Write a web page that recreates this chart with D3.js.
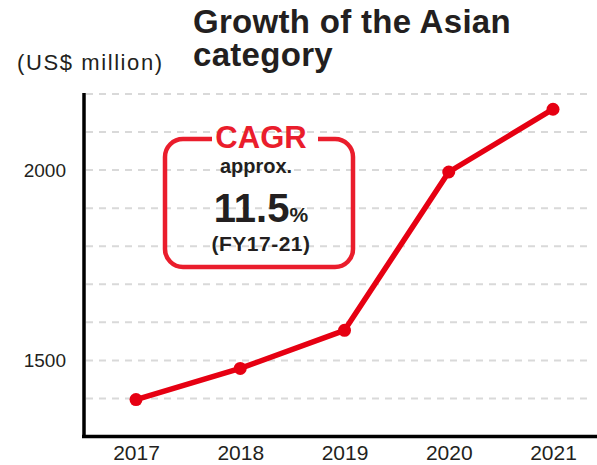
<!DOCTYPE html>
<html>
<head>
<meta charset="utf-8">
<script src="https://cdn.jsdelivr.net/npm/d3@7"></script>
<style>
  body { margin: 0; background: #fff; }
  svg { display: block; font-family: "Liberation Sans", Arial, sans-serif; }
</style>
</head>
<body>
<svg id="chart" width="597" height="465"></svg>
<script>
// Chart data
var years = ['2017', '2018', '2019', '2020', '2021'];
var sales = [1397, 1479, 1579, 1995, 2160];
var yLabelTicks = [1500, 2000];
var gridTicks = [1400, 1500, 1600, 1700, 1800, 1900, 2000, 2100, 2200];
var titleLines = ['Growth of the Asian', 'category'];

var red = '#e60012';
var boxRed = '#ea1d2c';
var ink = '#231f20';

var svg = d3.select('#chart');

// Scales
var x = d3.scalePoint()
  .domain(years)
  .range([136, 553]);

var y = d3.scaleLinear()
  .domain([1300, 2200])
  .range([436.5, 94]);

// Dashed gridlines
svg.append('g')
  .selectAll('line')
  .data(gridTicks)
  .enter().append('line')
  .attr('x1', 86)
  .attr('x2', 593)
  .attr('y1', function(d) { return y(d); })
  .attr('y2', function(d) { return y(d); })
  .style('stroke', '#d9d9d9')
  .style('stroke-width', 2)
  .style('stroke-dasharray', '7,6');

// Y axis (labels only for a couple of ticks)
var yAxis = svg.append('g')
  .attr('transform', 'translate(84,0)')
  .call(d3.axisLeft(y).tickValues(yLabelTicks).tickFormat(d3.format('d')).tickSize(0).tickPadding(18));
yAxis.select('.domain').remove();
yAxis.selectAll('text')
  .style('font-size', '19px')
  .style('fill', ink);

svg.append('line')
  .attr('x1', 84).attr('x2', 84)
  .attr('y1', y(2200) - 1).attr('y2', y(1300) + 1.5)
  .style('stroke', '#000')
  .style('stroke-width', 3.5);

// X axis
var xAxis = svg.append('g')
  .attr('transform', 'translate(0,' + y(1300) + ')')
  .call(d3.axisBottom(x).tickSize(0).tickPadding(9));
xAxis.select('.domain').remove();
xAxis.selectAll('text')
  .style('font-size', '21px')
  .style('fill', ink);

svg.append('line')
  .attr('x1', 82).attr('x2', 597)
  .attr('y1', y(1300)).attr('y2', y(1300))
  .style('stroke', '#000')
  .style('stroke-width', 3.5);

// Sales line
var line = d3.line()
  .x(function(d, i) { return x(years[i]); })
  .y(function(d) { return y(d); });

svg.append('path')
  .datum(sales)
  .attr('d', line)
  .style('fill', 'none')
  .style('stroke', red)
  .style('stroke-width', 5.5)
  .style('stroke-linejoin', 'round');

svg.selectAll('.dot')
  .data(sales)
  .enter().append('circle')
  .attr('class', 'dot')
  .attr('cx', function(d, i) { return x(years[i]); })
  .attr('cy', function(d) { return y(d); })
  .attr('r', 6.5)
  .style('fill', red);

// Title and unit
svg.selectAll('.title')
  .data(titleLines)
  .enter().append('text')
  .attr('class', 'title')
  .attr('x', 193)
  .attr('y', function(d, i) { return 33 + i * 33; })
  .style('font-size', '33px')
  .style('font-weight', 'bold')
  .style('letter-spacing', '0.3px')
  .style('fill', ink)
  .text(function(d) { return d; });

svg.append('text')
  .attr('x', 17)
  .attr('y', 70)
  .style('font-size', '22px')
  .style('letter-spacing', '1.6px')
  .style('fill', ink)
  .text('(US$ million)');

// CAGR box
var box = {left: 165, right: 353, top: 139, bottom: 267, r: 18, gapL: 212, gapR: 318};
var b = d3.path();
b.moveTo(box.gapL, box.top);
b.lineTo(box.left + box.r, box.top);
b.arcTo(box.left, box.top, box.left, box.top + box.r, box.r);
b.lineTo(box.left, box.bottom - box.r);
b.arcTo(box.left, box.bottom, box.left + box.r, box.bottom, box.r);
b.lineTo(box.right - box.r, box.bottom);
b.arcTo(box.right, box.bottom, box.right, box.bottom - box.r, box.r);
b.lineTo(box.right, box.top + box.r);
b.arcTo(box.right, box.top, box.right - box.r, box.top, box.r);
b.lineTo(box.gapR, box.top);

svg.append('path')
  .attr('d', b.toString())
  .style('fill', 'none')
  .style('stroke', boxRed)
  .style('stroke-width', 4.5);

var cx = 261;
svg.append('text')
  .attr('x', cx).attr('y', 148)
  .attr('text-anchor', 'middle')
  .style('font-size', '31px')
  .style('font-weight', 'bold')
  .style('fill', boxRed)
  .text('CAGR');

svg.append('text')
  .attr('x', 256).attr('y', 173)
  .attr('text-anchor', 'middle')
  .style('font-size', '20px')
  .style('font-weight', 'bold')
  .style('fill', ink)
  .text('approx.');

var pct = svg.append('text')
  .attr('x', 261).attr('y', 222)
  .attr('text-anchor', 'middle')
  .style('font-weight', 'bold')
  .style('fill', ink);
pct.append('tspan').style('font-size', '40px').text('11.5');
pct.append('tspan').style('font-size', '21px').text('%');

svg.append('text')
  .attr('x', 261).attr('y', 251)
  .attr('text-anchor', 'middle')
  .style('font-size', '21px')
  .style('font-weight', 'bold')
  .style('letter-spacing', '0.5px')
  .style('fill', ink)
  .text('(FY17-21)');
</script>
</body>
</html>
